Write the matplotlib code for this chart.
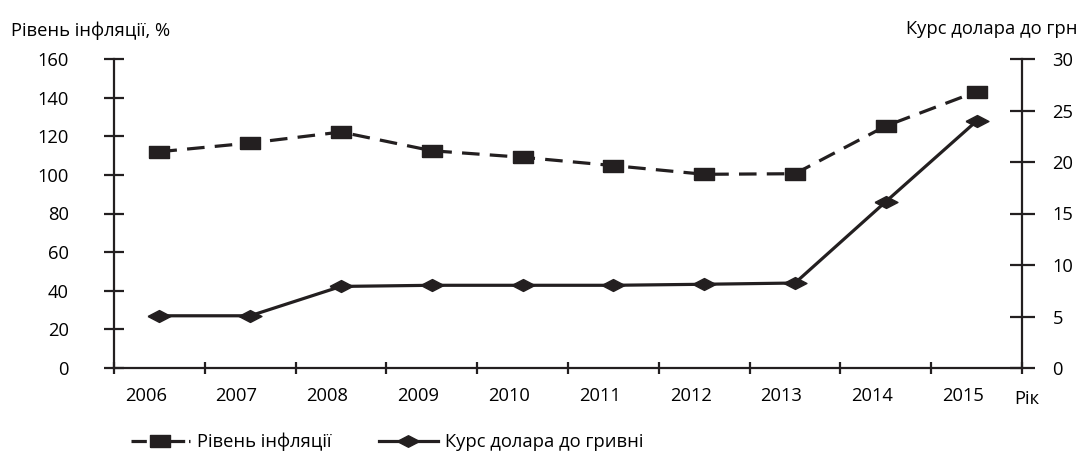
import numpy as np
import matplotlib
matplotlib.use('Agg')
import matplotlib.pyplot as plt
from matplotlib.lines import Line2D

plt.rcParams['font.family'] = ['Open Sans', 'DejaVu Sans']

years = ['2006', '2007', '2008', '2009', '2010', '2011', '2012', '2013', '2014', '2015']
inflation = [112.0, 116.5, 122.2, 112.5, 109.1, 104.8, 100.3, 100.6, 125.3, 143.1]
usd_rate = [5.07, 5.07, 7.92, 8.03, 8.03, 8.03, 8.13, 8.25, 16.15, 23.98]

ink = '#231f20'
fs = 13.2

# flattened markers as in the original
rect = [(-1, -0.6), (1, -0.6), (1, 0.6), (-1, 0.6), (-1, -0.6)]
diam = [(-1, 0), (0, 0.52), (1, 0), (0, -0.52), (-1, 0)]

fig = plt.figure(figsize=(10.85, 4.53), dpi=100)
ax = fig.add_axes([114/1085, 1-368/453, (1022-114)/1085, (368-59)/453])
ax2 = ax.twinx()

x = np.arange(len(years))

ax.plot(x, inflation, color=ink, lw=2.3, ls=(0, (5.5, 3.2)), marker=rect, ms=14.5, mfc=ink, mec=ink)
ax2.plot(x, usd_rate, color=ink, lw=2.3, marker=diam, ms=16.5, mfc=ink, mec=ink)

ax.set_xlim(-0.5, len(years) - 0.5)
ax.set_ylim(0, 160)
ax2.set_ylim(0, 30)

for a in (ax, ax2):
    for s in a.spines.values():
        s.set_color(ink)
        s.set_linewidth(1.6)
    a.spines['top'].set_visible(False)
ax.spines['right'].set_visible(False)
ax2.spines['left'].set_visible(False)
ax2.spines['bottom'].set_visible(False)

ax.set_yticks(np.arange(0, 161, 20))
ax.tick_params(axis='y', direction='inout', length=15, width=1.6, color=ink, labelsize=fs, labelcolor='black', pad=25)
ax2.set_yticks(np.arange(0, 31, 5))
ax2.tick_params(axis='y', direction='inout', length=18, width=1.6, color=ink, labelsize=fs, labelcolor='black', pad=13)

# boundary ticks on x, labels slightly left of the category centre
ax.set_xticks(np.arange(-0.5, len(years), 1.0))
ax.set_xticklabels([])
ax.tick_params(axis='x', which='major', direction='inout', length=9, width=1.6, color=ink)
ax.set_xticks(x - 0.15, minor=True)
ax.set_xticklabels(years, minor=True)
ax.tick_params(axis='x', which='minor', length=0, labelsize=fs, pad=14)

fig.text(11/1085, 1-31/453, 'Рівень інфляції, %', fontsize=fs, va='center', ha='left')
fig.text(1078/1085, 1-29/453, 'Курс долара до грн', fontsize=fs, va='center', ha='right')
fig.text(1014/1085, 1-399/453, 'Рік', fontsize=fs, va='center', ha='left')

handles = [
    Line2D([], [], color=ink, lw=2.3, ls=(0, (4.8, 1.2)), marker=rect, ms=15, mfc=ink, mec=ink),
    Line2D([], [], color=ink, lw=2.3, marker=diam, ms=16, mfc=ink, mec=ink),
]
fig.legend(handles, ['Рівень інфляції', 'Курс долара до гривні'], loc='center left',
           bbox_to_anchor=(131/1085, 1-442/453), ncol=2, frameon=False, fontsize=fs,
           handlelength=3.2, handletextpad=0.4, columnspacing=2.6, borderaxespad=0, borderpad=0)

fig.savefig('out.png', dpi=100)
